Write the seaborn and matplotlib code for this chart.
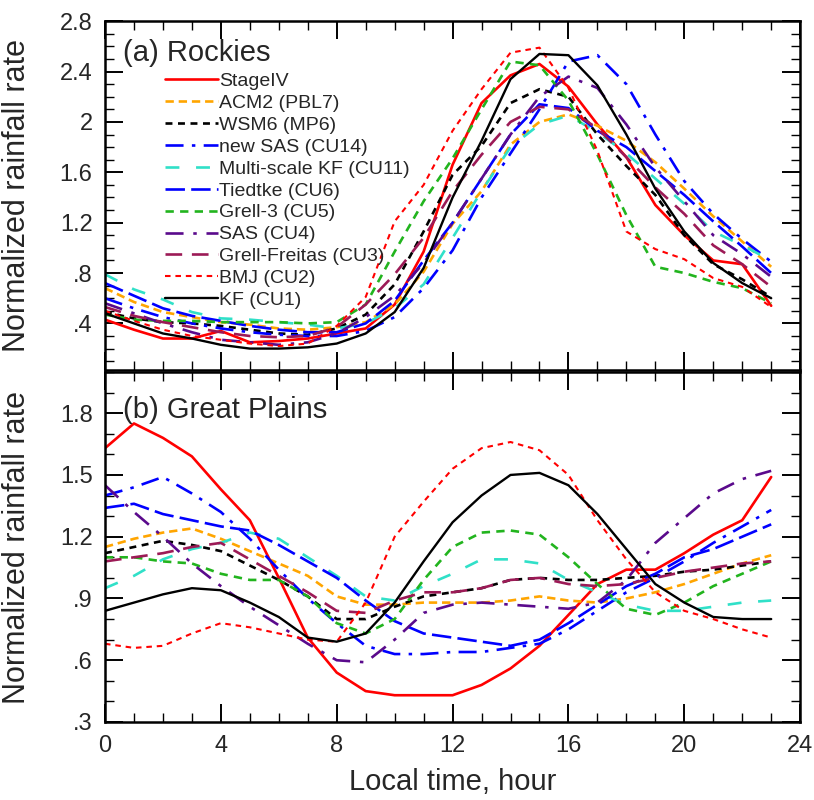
import numpy as np
import pandas as pd
import matplotlib
matplotlib.use("Agg")
import matplotlib.pyplot as plt
from matplotlib.ticker import FixedLocator, MultipleLocator, FuncFormatter
import seaborn as sns

hours = np.arange(24)

# (a) Rockies
rk_stage4 = [0.43, 0.35, 0.28, 0.28, 0.34, 0.25, 0.26, 0.28, 0.32, 0.36, 0.55, 0.97,
             1.66, 2.15, 2.37, 2.46, 2.28, 1.98, 1.72, 1.34, 1.10, 0.90, 0.87, 0.54]
rk_acm2 = [0.68, 0.57, 0.49, 0.45, 0.41, 0.39, 0.36, 0.35, 0.37, 0.41, 0.55, 0.81,
           1.19, 1.45, 1.82, 2.00, 2.06, 1.97, 1.85, 1.68, 1.47, 1.25, 1.05, 0.85]
rk_wsm6 = [0.49, 0.44, 0.41, 0.40, 0.38, 0.35, 0.32, 0.31, 0.36, 0.47, 0.71, 1.13,
           1.58, 1.81, 2.15, 2.26, 2.20, 1.90, 1.65, 1.42, 1.10, 0.87, 0.75, 0.61]
rk_newsas = [0.60, 0.52, 0.45, 0.40, 0.36, 0.33, 0.31, 0.30, 0.30, 0.34, 0.45, 0.68,
             0.98, 1.40, 1.75, 2.10, 2.48, 2.53, 2.30, 1.90, 1.53, 1.27, 1.07, 0.89]
rk_mskf = [0.79, 0.67, 0.59, 0.49, 0.44, 0.43, 0.41, 0.39, 0.36, 0.40, 0.52, 0.71,
           1.08, 1.45, 1.80, 1.98, 2.05, 1.92, 1.75, 1.55, 1.35, 1.13, 1.02, 0.90]
rk_tiedtke = [0.72, 0.62, 0.52, 0.46, 0.42, 0.38, 0.35, 0.33, 0.33, 0.40, 0.58, 0.90,
              1.20, 1.55, 1.90, 2.14, 2.11, 1.93, 1.80, 1.61, 1.42, 1.21, 1.01, 0.80]
rk_grell3 = [0.47, 0.43, 0.42, 0.42, 0.41, 0.41, 0.41, 0.40, 0.41, 0.55, 0.97, 1.37,
             1.71, 2.10, 2.48, 2.45, 2.17, 1.74, 1.26, 0.85, 0.80, 0.73, 0.68, 0.56]
rk_sas = [0.56, 0.48, 0.40, 0.33, 0.27, 0.25, 0.23, 0.25, 0.32, 0.45, 0.62, 0.88,
          1.20, 1.55, 1.90, 2.20, 2.36, 2.27, 1.98, 1.64, 1.37, 1.10, 0.95, 0.77]
rk_gf = [0.53, 0.46, 0.41, 0.37, 0.33, 0.30, 0.29, 0.30, 0.37, 0.55, 0.79, 1.08,
         1.45, 1.74, 2.00, 2.12, 2.10, 1.95, 1.72, 1.48, 1.27, 1.02, 0.87, 0.69]
rk_bmj = [0.50, 0.42, 0.35, 0.30, 0.27, 0.24, 0.22, 0.24, 0.38, 0.61, 1.21, 1.50,
          1.93, 2.26, 2.55, 2.59, 2.27, 1.77, 1.13, 0.99, 0.91, 0.76, 0.69, 0.53]
rk_kf = [0.48, 0.40, 0.32, 0.28, 0.23, 0.20, 0.20, 0.21, 0.24, 0.32, 0.49, 0.84,
         1.40, 1.85, 2.34, 2.54, 2.53, 2.29, 1.90, 1.47, 1.13, 0.88, 0.72, 0.60]

# (b) Great Plains
gp_stage4 = [1.63, 1.75, 1.68, 1.59, 1.43, 1.28, 1.00, 0.71, 0.54, 0.45, 0.43, 0.43,
             0.43, 0.48, 0.56, 0.67, 0.82, 0.97, 1.04, 1.04, 1.12, 1.21, 1.28, 1.49]
gp_acm2 = [1.15, 1.19, 1.22, 1.24, 1.19, 1.13, 1.07, 1.01, 0.91, 0.87, 0.87, 0.88,
           0.88, 0.88, 0.89, 0.91, 0.89, 0.88, 0.90, 0.93, 0.97, 1.02, 1.07, 1.11]
gp_wsm6 = [1.12, 1.15, 1.18, 1.16, 1.13, 1.06, 0.99, 0.91, 0.80, 0.80, 0.86, 0.91,
           0.93, 0.95, 0.99, 1.00, 0.99, 0.99, 1.00, 1.01, 1.03, 1.04, 1.06, 1.08]
gp_newsas = [1.40, 1.44, 1.49, 1.41, 1.32, 1.19, 1.04, 0.90, 0.78, 0.67, 0.63, 0.63,
             0.64, 0.64, 0.66, 0.68, 0.75, 0.84, 0.93, 1.00, 1.08, 1.17, 1.25, 1.33]
gp_mskf = [0.95, 1.01, 1.09, 1.14, 1.17, 1.22, 1.19, 1.10, 1.01, 0.91, 0.89, 0.96,
           1.02, 1.09, 1.09, 1.07, 0.99, 0.93, 0.87, 0.84, 0.84, 0.86, 0.88, 0.89]
gp_tiedtke = [1.34, 1.36, 1.31, 1.28, 1.25, 1.23, 1.16, 1.08, 1.00, 0.89, 0.79, 0.73,
              0.71, 0.69, 0.67, 0.70, 0.78, 0.87, 0.96, 1.02, 1.10, 1.14, 1.20, 1.26]
gp_grell3 = [1.10, 1.10, 1.08, 1.07, 1.02, 0.99, 0.99, 0.91, 0.78, 0.73, 0.80, 0.99,
             1.15, 1.22, 1.23, 1.21, 1.10, 0.97, 0.85, 0.82, 0.88, 0.96, 1.02, 1.08]
gp_sas = [1.45, 1.32, 1.20, 1.07, 0.96, 0.86, 0.77, 0.68, 0.60, 0.59, 0.70, 0.83,
          0.87, 0.88, 0.87, 0.86, 0.85, 0.88, 0.99, 1.17, 1.29, 1.41, 1.48, 1.52]
gp_gf = [1.08, 1.10, 1.12, 1.15, 1.17, 1.09, 1.01, 0.93, 0.84, 0.83, 0.89, 0.93,
         0.93, 0.95, 0.99, 1.00, 0.97, 0.96, 0.97, 1.00, 1.03, 1.05, 1.07, 1.08]
gp_bmj = [0.68, 0.66, 0.67, 0.73, 0.78, 0.76, 0.73, 0.70, 0.69, 0.88, 1.20, 1.37,
          1.53, 1.63, 1.66, 1.62, 1.50, 1.28, 1.09, 0.93, 0.84, 0.80, 0.75, 0.71]
gp_kf = [0.84, 0.88, 0.92, 0.95, 0.94, 0.88, 0.81, 0.71, 0.69, 0.73, 0.88, 1.08,
         1.27, 1.40, 1.50, 1.51, 1.45, 1.31, 1.14, 0.97, 0.88, 0.81, 0.80, 0.80]

labels = ["StageIV", "ACM2 (PBL7)", "WSM6 (MP6)", "new SAS (CU14)",
          "Multi-scale KF (CU11)", "Tiedtke (CU6)", "Grell-3 (CU5)", "SAS (CU4)",
          "Grell-Freitas (CU3)", "BMJ (CU2)", "KF (CU1)"]
rockies = [rk_stage4, rk_acm2, rk_wsm6, rk_newsas, rk_mskf, rk_tiedtke,
           rk_grell3, rk_sas, rk_gf, rk_bmj, rk_kf]
plains = [gp_stage4, gp_acm2, gp_wsm6, gp_newsas, gp_mskf, gp_tiedtke,
          gp_grell3, gp_sas, gp_gf, gp_bmj, gp_kf]

# line styles (NCL look)
colors = ["#ff0000", "#ffa500", "#000000", "#0000ff", "#30e0c8", "#0000ff",
          "#22b41e", "#5a0a8c", "#9c1a56", "#ff0000", "#000000"]
styles = ["-", (0, (6, 3.5)), (0, (5, 4)), (0, (13, 6, 2.5, 6)), (0, (10, 12)),
          (0, (14, 4.5)), (0, (6, 4.5)), (0, (13, 7, 2.5, 7)), (0, (12, 7)),
          (0, (4, 3.5)), "-"]
widths = [1.9, 1.9, 1.9, 1.9, 1.9, 1.9, 1.9, 1.9, 1.9, 1.5, 1.7]

sns.set_theme(style="ticks")
plt.rcParams["font.family"] = ["Liberation Sans", "DejaVu Sans"]
plt.rcParams["lines.scale_dashes"] = False

fig = plt.figure(figsize=(8.14, 8.0), dpi=100)
ax1 = fig.add_axes([0.129, 0.5375, 0.854, 0.436])
ax2 = fig.add_axes([0.129, 0.0975, 0.854, 0.4375])


def tick_fmt(v, pos):
    s = f"{v:.1f}"
    if s.endswith(".0"):
        s = s[:-2]
    if s.startswith("0."):
        s = s[1:]
    return s


def draw_panel(ax, series, ylim, yticks):
    for vals, lab, c, ls, lw in zip(series, labels, colors, styles, widths):
        sns.lineplot(x=hours, y=vals, ax=ax, color=c, linestyle=ls,
                     linewidth=lw, label=lab, legend=False)
    ax.set_xlim(0, 24)
    ax.set_ylim(*ylim)
    ax.xaxis.set_major_locator(MultipleLocator(4))
    ax.xaxis.set_minor_locator(MultipleLocator(1))
    ax.yaxis.set_major_locator(FixedLocator(yticks))
    ax.yaxis.set_minor_locator(MultipleLocator(0.1))
    ax.yaxis.set_major_formatter(FuncFormatter(tick_fmt))
    ax.tick_params(which="both", direction="in", top=True, right=True,
                   color="black", labelsize=17)
    ax.tick_params(which="major", length=13, width=1.4, pad=9)
    ax.tick_params(which="minor", length=6.5, width=1.0)
    for sp in ax.spines.values():
        sp.set_linewidth(1.8)
        sp.set_color("black")
    ax.set_xlabel("")
    ax.set_ylabel("Normalized rainfall rate", fontsize=22)
    ax.yaxis.set_label_coords(-0.105, 0.5)


draw_panel(ax1, rockies, (0.03, 2.8), [0.4, 0.8, 1.2, 1.6, 2.0, 2.4, 2.8])
draw_panel(ax2, plains, (0.3, 2.0), [0.3, 0.6, 0.9, 1.2, 1.5, 1.8])

ax1.tick_params(axis="x", labelbottom=False)
ax2.set_xticks([0, 4, 8, 12, 16, 20, 24])
ax2.set_xticklabels(["0", "4", "8", "12", "16", "20", "24"], fontsize=17)
ax2.set_xlabel("Local time, hour", fontsize=21, labelpad=8)

ax1.text(0.026, 0.91, "(a) Rockies", transform=ax1.transAxes, fontsize=21,
         va="center", ha="left")
ax2.text(0.026, 0.89, "(b) Great Plains", transform=ax2.transAxes, fontsize=21,
         va="center", ha="left")

ax1.legend(loc="upper left", bbox_to_anchor=(0.086, 0.853), frameon=False,
           fontsize=14, handlelength=2.75, handletextpad=0.05,
           labelspacing=0.22, borderaxespad=0, borderpad=0)

fig.savefig("out.png", dpi=100)
